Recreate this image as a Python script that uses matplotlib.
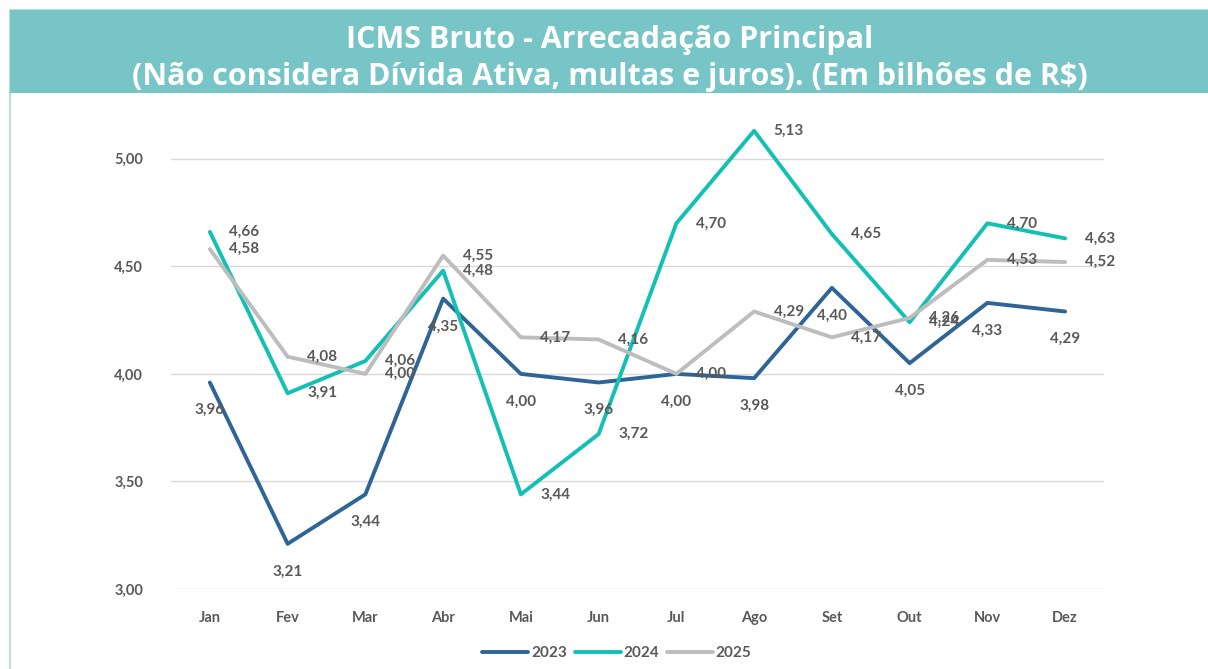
import numpy as np
import matplotlib.pyplot as plt
from matplotlib.patches import Rectangle

# dados (em bilhões de R$)
meses = ['Jan', 'Fev', 'Mar', 'Abr', 'Mai', 'Jun', 'Jul', 'Ago', 'Set', 'Out', 'Nov', 'Dez']
v2023 = [3.96, 3.21, 3.44, 4.35, 4.00, 3.96, 4.00, 3.98, 4.40, 4.05, 4.33, 4.29]
v2024 = [4.66, 3.91, 4.06, 4.48, 3.44, 3.72, 4.70, 5.13, 4.65, 4.24, 4.70, 4.63]
v2025 = [4.58, 4.08, 4.00, 4.55, 4.17, 4.16, 4.00, 4.29, 4.17, 4.26, 4.53, 4.52]
anos = ['2023', '2024', '2025']
yticks = [3.0, 3.5, 4.0, 4.5, 5.0]

cores = ['#2F6497', '#12C1B4', '#BDBDBD']
cinza = '#595959'
teal = '#78C5C8'

plt.rcParams['font.family'] = ['Lato', 'DejaVu Sans']

fig = plt.figure(figsize=(12.08, 6.69), dpi=100)

# moldura e faixa do título
fig.patches.append(Rectangle((10 / 1208, -0.1), 1.1, 1 - 10 / 669 + 0.1,
                             transform=fig.transFigure, facecolor='none',
                             edgecolor='#A9DADC', lw=1.2))
fig.patches.append(Rectangle((10 / 1208, 1 - 93 / 669), 1.1, 83 / 669,
                             transform=fig.transFigure, facecolor=teal,
                             edgecolor='none'))
fig.text(0.505, 1 - 40 / 669, 'ICMS Bruto - Arrecadação Principal', ha='center', va='center',
         color='white', fontsize=22, fontweight='bold', family=['Open Sans', 'DejaVu Sans'])
fig.text(0.505, 1 - 77 / 669, '(Não considera Dívida Ativa, multas e juros). (Em bilhões de R$)',
         ha='center', va='center', color='white', fontsize=22, fontweight='bold',
         family=['Open Sans', 'DejaVu Sans'])

ax = fig.add_axes([171 / 1208, 1 - 589 / 669, 933 / 1208, 484 / 669])
x = np.arange(len(meses))

series = [v2023, v2024, v2025]
for vals, cor, ano in zip(series, cores, anos):
    ax.plot(x, vals, color=cor, lw=2.8, label=ano, solid_capstyle='round')

def fmt(v):
    return f'{v:.2f}'.replace('.', ',')

# rótulos: 2023 abaixo, 2024 e 2025 à direita
for xi, v in zip(x, v2023):
    ax.annotate(fmt(v), (xi, v), xytext=(0, -20), textcoords='offset points',
                ha='center', va='center', fontsize=11, fontweight='bold', color=cinza)
for vals in (v2024, v2025):
    for xi, v in zip(x, vals):
        ax.annotate(fmt(v), (xi, v), xytext=(14, 0), textcoords='offset points',
                    ha='left', va='center', fontsize=11, fontweight='bold', color=cinza)

ax.set_xlim(-0.5, len(meses) - 0.5)
ax.set_ylim(3.0, 5.25)
ax.set_xticks(x)
ax.set_xticklabels(meses)
ax.set_yticks(yticks)
ax.set_yticklabels([fmt(t) for t in yticks])
ax.grid(axis='y', color='#D9D9D9', lw=1)
ax.set_axisbelow(True)
for s in ax.spines.values():
    s.set_visible(False)
ax.tick_params(length=0, colors=cinza, labelsize=10.5)
ax.tick_params(axis='x', pad=16)
ax.tick_params(axis='y', pad=20)
for lb in ax.get_xticklabels() + ax.get_yticklabels():
    lb.set_fontweight('bold')

leg = fig.legend(loc='center', bbox_to_anchor=(617 / 1208, 1 - 653 / 669), ncol=3,
                 frameon=False, handlelength=3.0, columnspacing=0.5, handletextpad=0.2,
                 prop={'weight': 'bold', 'size': 11})
for t in leg.get_texts():
    t.set_color(cinza)

fig.savefig('out.png', dpi=100)
